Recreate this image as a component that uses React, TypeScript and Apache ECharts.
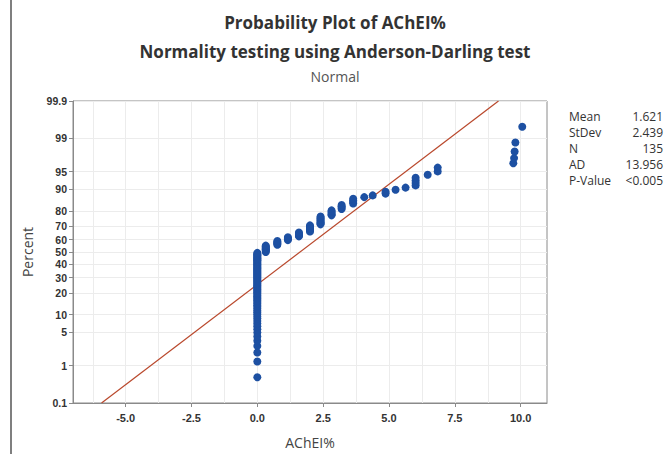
import React, { useEffect, useRef } from "react";
import * as echarts from "echarts";

// ---- data ----
const distinctValues = [0, 0.32, 0.76, 1.16, 1.58, 2.0, 2.4, 2.82, 3.2, 3.64, 4.06, 4.38, 4.87, 5.25, 5.63, 6.01, 6.47, 6.85, 9.72, 9.75, 9.77, 9.8, 10.06];
const valueCounts = [67, 8, 5, 4, 5, 7, 8, 5, 4, 4, 1, 1, 2, 1, 1, 4, 1, 2, 1, 1, 1, 1, 1];

const fitMean = 1.621;
const fitStDev = 2.439;

const percentTicks = [0.1, 1, 5, 10, 20, 30, 40, 50, 60, 70, 80, 90, 95, 99, 99.9];
const xTickValues = [-5, -2.5, 0, 2.5, 5, 7.5, 10];
const xGridValues = [-6.25, -5, -3.75, -2.5, -1.25, 0, 1.25, 2.5, 3.75, 5, 6.25, 7.5, 8.75, 10];

const statLabels = ["Mean", "StDev", "N", "AD", "P-Value"];
const statValues = ["1.621", "2.439", "135", "13.956", "<0.005"];

// inverse standard normal CDF (Acklam)
function normInv(p: number): number {
  const a = [-3.969683028665376e1, 2.209460984245205e2, -2.759285104469687e2, 1.38357751867269e2, -3.066479806614716e1, 2.506628277459239];
  const b = [-5.447609879822406e1, 1.615858368580409e2, -1.556989798598866e2, 6.680131188771972e1, -1.328068155288572e1];
  const c = [-7.784894002430293e-3, -3.223964580411365e-1, -2.400758277161838, -2.549732539343734, 4.374664141464968, 2.938163982698783];
  const d = [7.784695709041462e-3, 3.224671290700398e-1, 2.445134137142996, 3.754408661907416];
  const plow = 0.02425;
  const phigh = 1 - plow;
  if (p < plow) {
    const q = Math.sqrt(-2 * Math.log(p));
    return (((((c[0] * q + c[1]) * q + c[2]) * q + c[3]) * q + c[4]) * q + c[5]) / ((((d[0] * q + d[1]) * q + d[2]) * q + d[3]) * q + 1);
  }
  if (p <= phigh) {
    const q = p - 0.5;
    const r = q * q;
    return ((((((a[0] * r + a[1]) * r + a[2]) * r + a[3]) * r + a[4]) * r + a[5]) * q) / (((((b[0] * r + b[1]) * r + b[2]) * r + b[3]) * r + b[4]) * r + 1);
  }
  const q = Math.sqrt(-2 * Math.log(1 - p));
  return -(((((c[0] * q + c[1]) * q + c[2]) * q + c[3]) * q + c[4]) * q + c[5]) / ((((d[0] * q + d[1]) * q + d[2]) * q + d[3]) * q + 1);
}

export default function App() {
  const ref = useRef<HTMLDivElement>(null);

  useEffect(() => {
    if (!ref.current) return;
    const chart = echarts.init(ref.current, undefined, { renderer: "svg" });

    // sorted sample and median-rank plotting positions
    const sample: number[] = [];
    distinctValues.forEach((v, i) => {
      for (let k = 0; k < valueCounts[i]; k++) sample.push(v);
    });
    sample.sort((a, b) => a - b);
    const n = sample.length;
    const points = sample.map((v, i) => [v, normInv((i + 1 - 0.3) / (n + 0.4))]);

    const zTicks = percentTicks.map((p) => normInv(p / 100));
    const zMin = zTicks[0];
    const zMax = zTicks[zTicks.length - 1];
    const fitLine = [
      [fitMean + fitStDev * zMin, zMin],
      [fitMean + fitStDev * zMax, zMax],
    ];

    const font = "'Open Sans', 'Noto Sans', sans-serif";
    const tickFont = "'Liberation Sans', Arial, sans-serif";
    const axisGray = "#8a8a8a";

    const statTexts: any[] = [];
    statLabels.forEach((lab, i) => {
      const y = 116 + i * 16.2;
      statTexts.push({
        type: "text",
        x: 569,
        y,
        style: { text: lab, fontSize: 12, fontFamily: font, fill: "#333", align: "left", verticalAlign: "middle" },
      });
      statTexts.push({
        type: "text",
        x: 663,
        y,
        style: { text: statValues[i], fontSize: 12, fontFamily: font, fill: "#333", align: "right", verticalAlign: "middle" },
      });
    });

    chart.setOption({
      animation: false,
      backgroundColor: "#ffffff",
      textStyle: { fontFamily: font },
      title: [
        {
          text: "Probability Plot of AChEI%\nNormality testing using Anderson-Darling test",
          left: "center",
          top: 3,
          textStyle: { fontSize: 17, fontWeight: "bold", color: "#333", lineHeight: 29, fontFamily: font },
        },
        {
          text: "Normal",
          left: "center",
          top: 64,
          textStyle: { fontSize: 14, fontWeight: "normal", color: "#555", fontFamily: font },
        },
      ],
      graphic: [
        { type: "line", shape: { x1: 11, y1: 0, x2: 11, y2: 454 }, style: { stroke: "#555", lineWidth: 1.5 } },
        ...statTexts,
      ],
      grid: {
        left: 73,
        top: 101,
        width: 474,
        height: 303,
        show: true,
        borderColor: axisGray,
        borderWidth: 1,
        backgroundColor: "transparent",
      },
      xAxis: [
        {
          type: "value",
          min: -7,
          max: 11,
          name: "AChEI%",
          nameLocation: "middle",
          nameGap: 32,
          nameTextStyle: { fontSize: 14, color: "#444", fontFamily: font },
          axisLine: { show: true, onZero: false, lineStyle: { color: axisGray } },
          axisTick: { show: true, length: 4, customValues: xTickValues, lineStyle: { color: axisGray } },
          axisLabel: {
            customValues: xTickValues,
            formatter: (v: number) => v.toFixed(1),
            fontSize: 11,
            fontWeight: "bold",
            fontFamily: tickFont,
            color: "#333",
            margin: 9,
          },
          splitLine: { show: false },
        },
        {
          type: "value",
          min: -7,
          max: 11,
          position: "bottom",
          axisLine: { show: false, onZero: false },
          axisTick: { show: false, customValues: xGridValues },
          axisLabel: { show: false },
          splitLine: { show: true, lineStyle: { color: "#ececec", width: 1 } },
        },
      ],
      yAxis: {
        type: "value",
        min: zMin,
        max: zMax,
        name: "Percent",
        nameLocation: "middle",
        nameGap: 39,
        nameTextStyle: { fontSize: 14, color: "#444", fontFamily: font },
        axisLine: { show: true, onZero: false, lineStyle: { color: axisGray } },
        axisTick: { show: true, length: 4, customValues: zTicks, lineStyle: { color: axisGray } },
        axisLabel: {
          customValues: zTicks,
          fontSize: 10.5,
          fontWeight: "bold",
          fontFamily: tickFont,
          lineHeight: 10.5,
          color: "#333",
          margin: 6,
          formatter: (v: number) => {
            let best = 0;
            zTicks.forEach((z, i) => {
              if (Math.abs(z - v) < Math.abs(zTicks[best] - v)) best = i;
            });
            return String(percentTicks[best]);
          },
        },
        splitLine: { show: true, lineStyle: { color: "#ececec", width: 1 } },
      },
      series: [
        {
          type: "line",
          data: fitLine,
          xAxisIndex: 0,
          symbol: "none",
          lineStyle: { color: "#b9482c", width: 1.2 },
          z: 2,
        },
        {
          type: "scatter",
          data: points,
          xAxisIndex: 0,
          symbol: "circle",
          symbolSize: 8,
          itemStyle: { color: "#1d50a2", opacity: 1 },
          z: 3,
        },
      ],
    });

    return () => chart.dispose();
  }, []);

  return <div ref={ref} style={{ position: "absolute", left: 0, top: 0, width: 670, height: 454 }} />;
}
